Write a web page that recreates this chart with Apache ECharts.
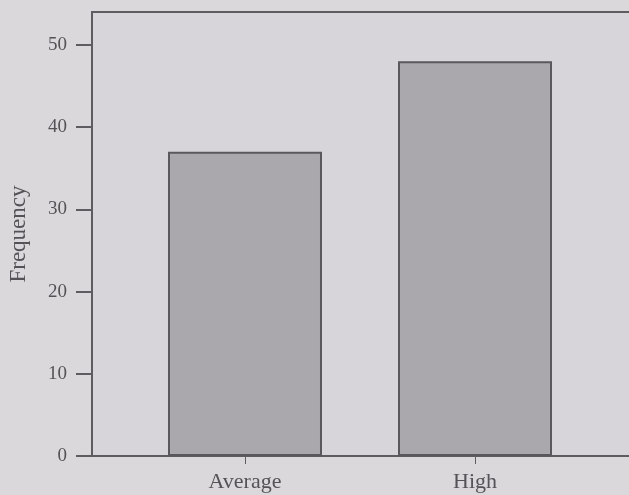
<!DOCTYPE html>
<html>
<head>
<meta charset="utf-8">
<script src="https://cdn.jsdelivr.net/npm/echarts@6/dist/echarts.min.js"></script>
<style>
html,body{margin:0;padding:0;background:#dbd8dc;}
#c{width:629px;height:495px;}
</style>
</head>
<body>
<div id="c"></div>
<script>
var categories = ['Average', 'High'];
var frequencies = [37, 48];
var yAxisName = 'Frequency';
var yTicks = [0, 10, 20, 30, 40, 50];
var catPositions = [1, 2];

var chart = echarts.init(document.getElementById('c'), null, {renderer: 'canvas'});
var fontFam = '"Liberation Serif", "DejaVu Serif", serif';
var txt = '#545256';
var line = '#5e5c60';

chart.setOption({
  backgroundColor: '#dbd8dc',
  animation: false,
  grid: {
    left: 92, top: 12, width: 540, height: 444,
    outerBoundsMode: 'none', containLabel: false,
    show: true, backgroundColor: '#d7d5d9', borderColor: line, borderWidth: 2
  },
  xAxis: {
    type: 'value',
    min: 0.3348, max: 2.6826,
    splitLine: {show: false},
    axisLine: {show: true, onZero: false, lineStyle: {color: line, width: 2}},
    axisTick: {show: true, customValues: catPositions, length: 8, lineStyle: {color: line, width: 1}},
    axisLabel: {
      customValues: catPositions,
      margin: 15,
      color: txt, fontFamily: fontFam, fontSize: 22,
      formatter: function (v) { var i = catPositions.indexOf(Math.round(v)); return i >= 0 ? categories[i] : ''; }
    }
  },
  yAxis: {
    type: 'value',
    min: 0, max: 54, interval: 10,
    name: yAxisName, nameLocation: 'middle', nameGap: 62, nameRotate: 90,
    nameTextStyle: {color: txt, fontFamily: fontFam, fontSize: 23},
    splitLine: {show: false},
    axisLine: {show: true, lineStyle: {color: line, width: 2}},
    axisTick: {show: true, customValues: yTicks, length: 16, lineStyle: {color: line, width: 2}},
    axisLabel: {
      customValues: yTicks,
      margin: 25, color: txt, fontFamily: fontFam, fontSize: 19
    }
  },
  series: [{
    type: 'bar',
    barWidth: 154,
    data: catPositions.map(function (p, i) { return [p, frequencies[i]]; }),
    itemStyle: {color: '#aaa8ac', borderColor: '#5a585c', borderWidth: 2}
  }]
});
</script>
</body>
</html>
